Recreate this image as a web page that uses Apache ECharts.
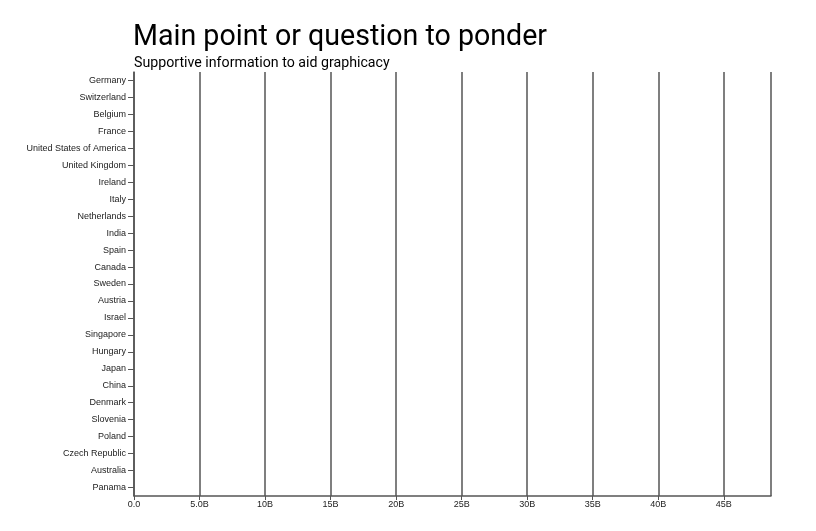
<!DOCTYPE html>
<html>
<head>
<meta charset="utf-8">
<script src="https://cdn.jsdelivr.net/npm/echarts@6/dist/echarts.min.js"></script>
<style>
  html, body { margin: 0; padding: 0; background: #fff; }
  #chart { width: 816px; height: 531px; }
</style>
</head>
<body>
<div id="chart"></div>
<script>
// 国家 (top to bottom)
var countries = [
  'Germany', 'Switzerland', 'Belgium', 'France', 'United States of America',
  'United Kingdom', 'Ireland', 'Italy', 'Netherlands', 'India', 'Spain',
  'Canada', 'Sweden', 'Austria', 'Israel', 'Singapore', 'Hungary', 'Japan',
  'China', 'Denmark', 'Slovenia', 'Poland', 'Czech Republic', 'Australia', 'Panama'
];
// no bars are drawn in the picture
var values = countries.map(function () { return null; });

// x axis: ticks every 5B, domain ends a bit after 45B
var tickStep = 5e9;
var xMax = 48.6e9;

var chart = echarts.init(document.getElementById('chart'));

chart.setOption({
  animation: false,
  title: [{
    text: 'Main point or question to ponder',
    left: 128,
    top: 18,
    textStyle: { fontFamily: 'Roboto', fontSize: 28.6, fontWeight: 'normal', color: '#000' }
  }, {
    text: 'Supportive information to aid graphicacy',
    left: 129,
    top: 51,
    textStyle: { fontFamily: 'Roboto', fontSize: 14.2, fontWeight: 'normal', color: '#000' }
  }],
  grid: { left: 134, right: 45, top: 72, bottom: 35 },
  xAxis: {
    type: 'value',
    min: 0,
    max: xMax,
    interval: tickStep,
    axisLine: { show: true, lineStyle: { color: '#555', width: 1.5 } },
    axisTick: { show: true, length: 4, lineStyle: { color: '#555' } },
    axisLabel: {
      showMaxLabel: false,
      margin: 4,
      fontFamily: 'Liberation Sans',
      fontSize: 9,
      color: '#222',
      formatter: function (v) {
        if (v === 0) return '0.0';
        if (v % tickStep !== 0) return '';
        var b = v / 1e9;
        return (b < 10 ? b.toFixed(1) : b) + 'B';
      }
    },
    splitLine: { show: true, lineStyle: { color: '#555', width: 1.5 } }
  },
  yAxis: {
    type: 'category',
    inverse: true,
    data: countries,
    axisLine: { show: true, lineStyle: { color: '#555', width: 1.5 } },
    axisTick: { show: true, alignWithLabel: true, length: 6, lineStyle: { color: '#555' } },
    axisLabel: {
      margin: 8,
      fontFamily: 'Liberation Sans',
      fontSize: 9,
      color: '#222'
    },
    splitLine: { show: false }
  },
  series: [{
    type: 'bar',
    data: values
  }]
});
</script>
</body>
</html>
